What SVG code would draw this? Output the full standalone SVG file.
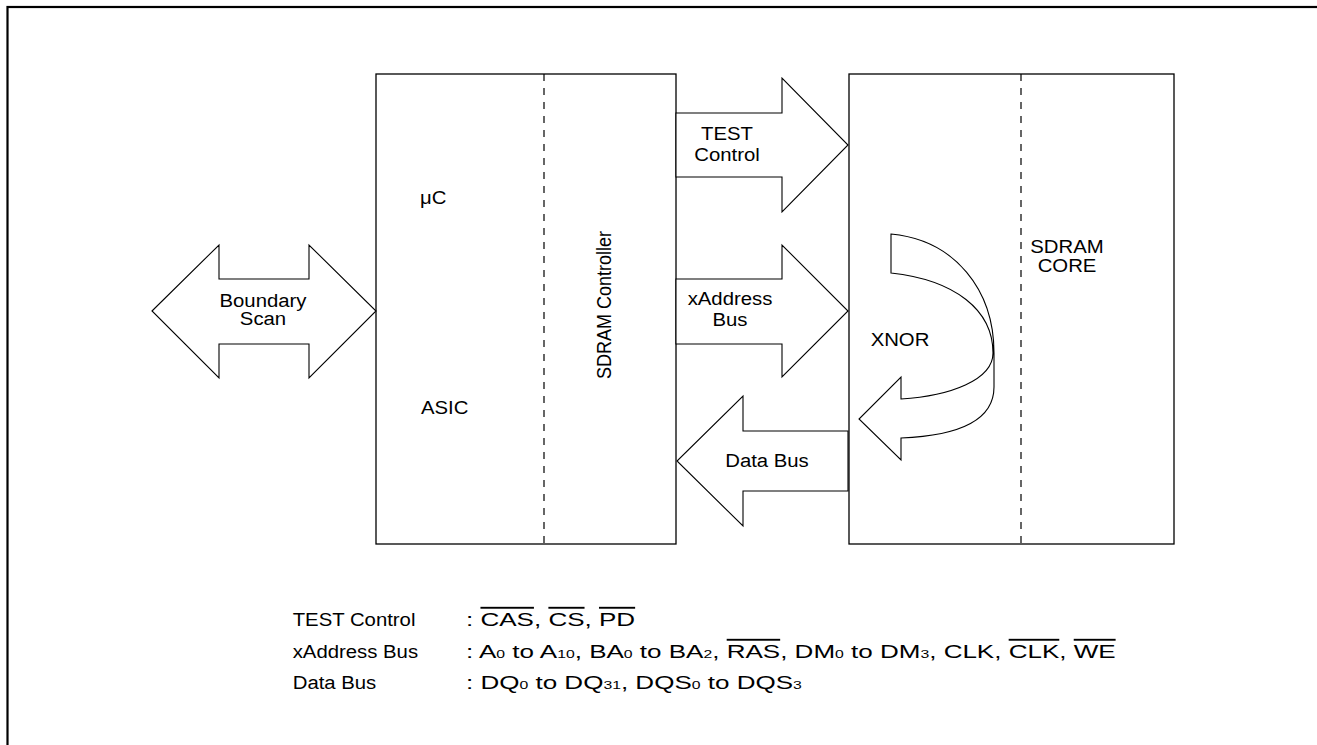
<svg xmlns="http://www.w3.org/2000/svg" width="1317" height="745" viewBox="0 0 1317 745">
<style>
.t{font-family:"Liberation Sans",Arial,Helvetica,sans-serif;font-size:18px;fill:#000}
.v{font-size:19px}
.s{font-size:11.5px}
.o{text-decoration:overline}
.box{fill:#fff;stroke:#000;stroke-width:1.3}
.dash{stroke:#000;stroke-width:1.2;stroke-dasharray:7 7}
.arr{fill:#fff;stroke:#000;stroke-width:1.1;stroke-linejoin:miter}
</style>
<rect x="0" y="0" width="1317" height="745" fill="#fff"/>
<rect x="7.5" y="7" width="1400" height="800" fill="none" stroke="#000" stroke-width="2.2"/>
<g id="asic">
<rect class="box" x="376" y="74" width="300" height="470"/>
<line class="dash" x1="544" y1="74" x2="544" y2="544"/>
<text class="t" transform="translate(420,204) scale(1.13,1)">μC</text>
<text class="t" transform="translate(421,414) scale(1.13,1)">ASIC</text>
<text class="t" text-anchor="middle" transform="translate(611,305) scale(1.13,1) rotate(-90)">SDRAM Controller</text>
</g>
<g id="sdram">
<rect class="box" x="849" y="74" width="325" height="470"/>
<line class="dash" x1="1021" y1="74" x2="1021" y2="544"/>
<text class="t" text-anchor="middle" transform="translate(1067,253) scale(1.13,1)">SDRAM</text>
<text class="t" text-anchor="middle" transform="translate(1067,272) scale(1.13,1)">CORE</text>
</g>
<g id="connectors">
<g id="boundary-scan">
<polygon class="arr" points="152,311 219,245 219,279 309,279 309,245 376,311 309,378 309,344 219,344 219,378"/>
<text class="t" text-anchor="middle" transform="translate(263,307) scale(1.13,1)">Boundary</text>
<text class="t" text-anchor="middle" transform="translate(263,325) scale(1.13,1)">Scan</text>
</g>
<g id="test-control">
<polygon class="arr" points="676,113 782,113 782,78 848,145 782,212 782,177 676,177"/>
<text class="t" text-anchor="middle" transform="translate(727,140) scale(1.13,1)">TEST</text>
<text class="t" text-anchor="middle" transform="translate(727,161) scale(1.13,1)">Control</text>
</g>
<g id="xaddress-bus">
<polygon class="arr" points="676,279 782,279 782,245 848,311 782,377 782,344 676,344"/>
<text class="t" text-anchor="middle" transform="translate(730,305) scale(1.13,1)">xAddress</text>
<text class="t" text-anchor="middle" transform="translate(730,326) scale(1.13,1)">Bus</text>
</g>
<g id="data-bus">
<polygon class="arr" points="848,431 743,431 743,396 677,461 743,526 743,491 848,491"/>
<text class="t" text-anchor="middle" transform="translate(767,467) scale(1.13,1)">Data Bus</text>
</g>
<g id="xnor">
<path class="arr" d="M891,234 C955,240 994,290 994,353 L994,387 C994,425 950,436 901,438 L901,460 L859,419 L901,377 L901,399 C950,396 993,380 993,353 C993,310 955,280 891,273 Z"/>
<text class="t" text-anchor="middle" transform="translate(900,346) scale(1.13,1)">XNOR</text>
</g>
</g>
<g id="legend">
<text class="t" transform="translate(292.7,626) scale(1.13,1)">TEST Control</text>
<text class="t v" transform="translate(466,626) scale(1.37,1)">: <tspan class="o">CAS</tspan>, <tspan class="o">CS</tspan>, <tspan class="o">PD</tspan></text>
<text class="t" transform="translate(292.7,658) scale(1.13,1)">xAddress Bus</text>
<text class="t v" transform="translate(466,658) scale(1.37,1)">: A<tspan class="s">0</tspan> to A<tspan class="s">10</tspan>, BA<tspan class="s">0</tspan> to BA<tspan class="s">2</tspan>, <tspan class="o">RAS</tspan>, DM<tspan class="s">0</tspan> to DM<tspan class="s">3</tspan>, CLK, <tspan class="o">CLK</tspan>, <tspan class="o">WE</tspan></text>
<text class="t" transform="translate(292.7,689) scale(1.13,1)">Data Bus</text>
<text class="t v" transform="translate(466,689) scale(1.37,1)">: DQ<tspan class="s">0</tspan> to DQ<tspan class="s">31</tspan>, DQS<tspan class="s">0</tspan> to DQS<tspan class="s">3</tspan></text>
</g>
</svg>
